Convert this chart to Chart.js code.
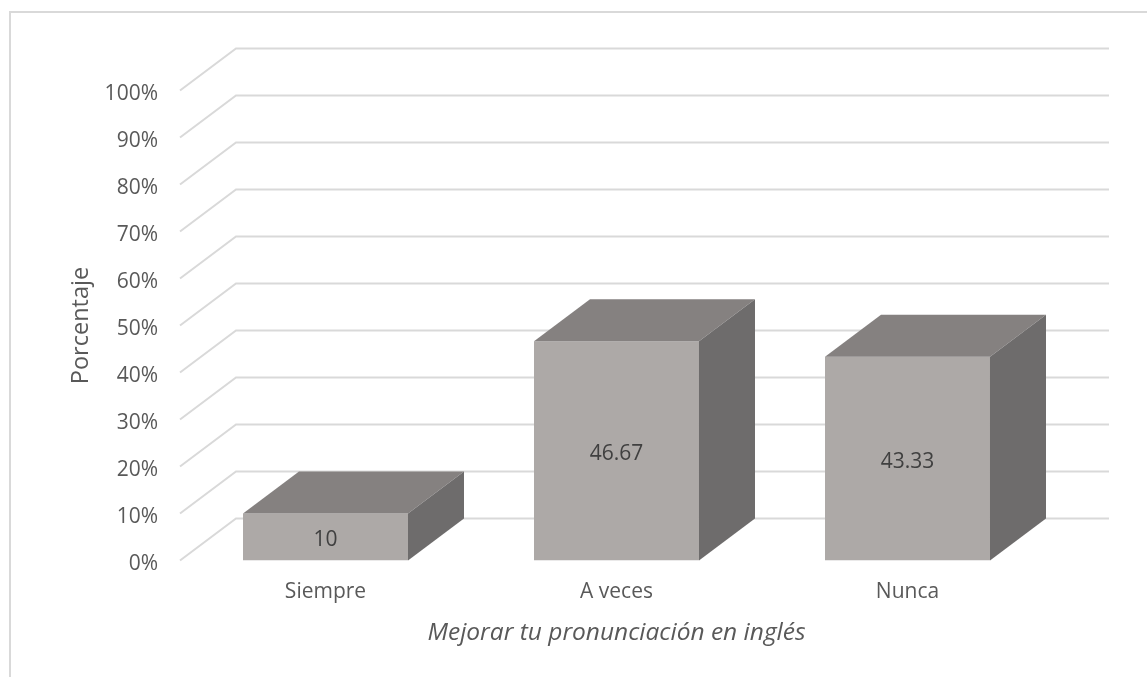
<!DOCTYPE html>
<html>

<head>
    <title>Mejorar tu pronunciación en inglés</title>
    <script src="https://cdnjs.cloudflare.com/ajax/libs/Chart.js/4.4.1/chart.umd.min.js"></script>
    <style>
        html, body { margin: 0; padding: 0; background: #fff; overflow: hidden; }
        #frame { position: absolute; left: 9px; top: 11px; right: 0; bottom: 0; border-left: 2px solid #d9d9d9; border-top: 2px solid #d9d9d9; }
        canvas { position: absolute; left: 0; top: 0; }
    </style>
</head>

<body>
    <div id="frame"></div>
    <canvas id="chart" width="1147" height="677"></canvas>

    <script>
        // Data
        var categories = ['Siempre', 'A veces', 'Nunca'];
        var percentages = [10, 46.67, 43.33];
        var yTicks = [0, 10, 20, 30, 40, 50, 60, 70, 80, 90, 100];
        var yTitle = 'Porcentaje';
        var xTitle = 'Mejorar tu pronunciación en inglés';

        var depthX = 56;
        var depthY = 42;
        var fontName = '"Open Sans", sans-serif';
        var textColor = '#595959';

        // Back wall and the diagonal floor lines, one per tick
        var wallPlugin = {
            id: 'wall',
            beforeDatasetsDraw: function (chart) {
                var ctx = chart.ctx, area = chart.chartArea, y = chart.scales.y;
                ctx.save();
                ctx.strokeStyle = '#d9d9d9';
                ctx.lineWidth = 2;
                yTicks.forEach(function (t) {
                    var py = y.getPixelForValue(t);
                    ctx.beginPath();
                    ctx.moveTo(area.left, py);
                    ctx.lineTo(area.left + depthX, py - depthY);
                    ctx.lineTo(area.right + depthX, py - depthY);
                    ctx.stroke();
                });
                ctx.restore();
            }
        };

        // Top and side faces of the boxes plus the value in the middle of the front
        var boxPlugin = {
            id: 'box',
            afterDatasetsDraw: function (chart) {
                var ctx = chart.ctx;
                ctx.save();
                chart.getDatasetMeta(0).data.forEach(function (bar, i) {
                    var left = bar.x - bar.width / 2, right = bar.x + bar.width / 2;
                    ctx.fillStyle = '#858180';
                    ctx.beginPath();
                    ctx.moveTo(left, bar.y);
                    ctx.lineTo(left + depthX, bar.y - depthY);
                    ctx.lineTo(right + depthX, bar.y - depthY);
                    ctx.lineTo(right, bar.y);
                    ctx.closePath();
                    ctx.fill();

                    ctx.fillStyle = '#6e6c6c';
                    ctx.beginPath();
                    ctx.moveTo(right, bar.y);
                    ctx.lineTo(right + depthX, bar.y - depthY);
                    ctx.lineTo(right + depthX, bar.base - depthY);
                    ctx.lineTo(right, bar.base);
                    ctx.closePath();
                    ctx.fill();

                    ctx.fillStyle = '#404040';
                    ctx.font = '21px ' + fontName;
                    ctx.textAlign = 'center';
                    ctx.textBaseline = 'middle';
                    ctx.fillText(percentages[i], bar.x, (bar.y + bar.base) / 2 + 3);
                });
                ctx.restore();
            }
        };

        var ctx = document.getElementById('chart').getContext('2d');
        var chart = new Chart(ctx, {
            type: 'bar',
            data: {
                labels: categories,
                datasets: [{
                    data: percentages,
                    backgroundColor: '#ada9a7',
                    borderWidth: 0,
                    categoryPercentage: 1,
                    barPercentage: 0.567
                }]
            },
            plugins: [wallPlugin, boxPlugin],
            options: {
                responsive: false,
                animation: false,
                layout: { padding: { left: 0, top: 90.5, right: 94, bottom: 0 } },
                plugins: { legend: { display: false }, tooltip: { enabled: false } },
                scales: {
                    x: {
                        afterFit: function (scale) { scale.height = 116.5; },
                        grid: { display: false, drawTicks: false },
                        border: { display: false },
                        ticks: { color: textColor, font: { family: fontName, size: 21 }, padding: 19, maxRotation: 0 },
                        title: {
                            display: true,
                            text: xTitle,
                            color: textColor,
                            font: { family: fontName, size: 24.5, style: 'italic' },
                            padding: { top: 0, bottom: 29 }
                        }
                    },
                    y: {
                        min: 0,
                        max: 100,
                        afterFit: function (scale) { scale.width = 180; },
                        afterBuildTicks: function (scale) {
                            scale.ticks = yTicks.map(function (v) { return { value: v }; });
                        },
                        grid: { display: false, drawTicks: false },
                        border: { display: false },
                        ticks: {
                            color: textColor,
                            font: { family: fontName, size: 21, lineHeight: '7px' },
                            padding: 22,
                            // empty first line pushes the label down to sit on the floor line start
                            callback: function (v) { return ['', v + '%']; }
                        },
                        title: {
                            display: true,
                            text: yTitle,
                            color: textColor,
                            font: { family: fontName, size: 23.5 },
                            padding: { top: 67, bottom: 0 }
                        }
                    }
                }
            }
        });
    </script>
</body>

</html>
